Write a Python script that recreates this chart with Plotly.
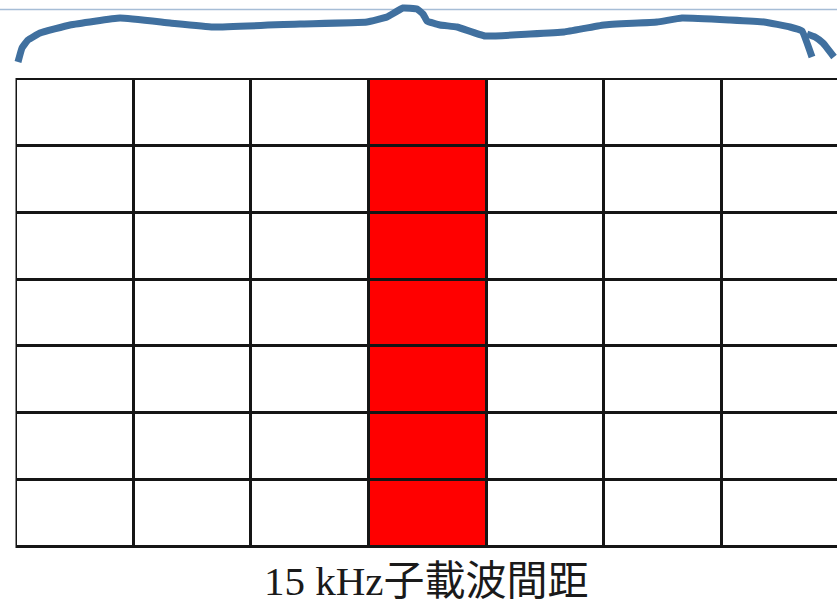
import plotly.graph_objects as go

# grid content
n_cols = 7
n_rows = 7
highlight_col = 3
label = "15 kHz子載波間距"

# hand-drawn brace above the grid (pixel coords of the sketch)
brace_x = [18, 22, 28, 40, 70, 120, 170, 213, 300, 367, 387, 403, 417, 423, 427,
           440, 457, 485, 530, 564, 604, 657, 682, 730, 764, 790, 802, 812,
           None, 807, 815, 823, 834]
brace_y = [62, 48, 40, 33, 25, 18, 23, 27, 24, 22, 17, 8, 9, 14, 21,
           25, 27, 36, 34, 32, 25, 22, 18, 20, 22, 27, 31, 57,
           None, 34, 37, 43, 57]

W, H = 837, 607
grid_left, grid_top = 16, 79
cell_w = (722 - 16) / 6
cell_h = (547 - 79) / 7

z = [[1 if c == highlight_col else 0 for c in range(n_cols)] for _ in range(n_rows)]

fig = go.Figure()
fig.add_trace(go.Heatmap(
    z=z,
    x0=grid_left + cell_w / 2, dx=cell_w,
    y0=grid_top + cell_h / 2, dy=cell_h,
    colorscale=[[0, "#ffffff"], [1, "#ff0000"]],
    zmin=0, zmax=1, showscale=False,
    xgap=3, ygap=3, hoverinfo="skip",
))
fig.add_trace(go.Scatter(
    x=brace_x, y=brace_y, mode="lines",
    line=dict(color="#40709f", width=7, shape="spline", smoothing=0.3),
    hoverinfo="skip", showlegend=False,
))

# dark backing so the heatmap gaps read as grid lines
fig.add_shape(type="rect", layer="below",
              x0=grid_left - 0.5, x1=grid_left + n_cols * cell_w + 1,
              y0=grid_top - 1, y1=grid_top + n_rows * cell_h + 1,
              fillcolor="#151515", line_width=0)
fig.add_shape(type="line", layer="below", x0=0, x1=W, y0=9.5, y1=9.5,
              line=dict(color="#a6bdd6", width=1.5))

fig.add_annotation(x=426, y=581, xref="x", yref="y", text=label, showarrow=False,
                   font=dict(family="Liberation Serif, Noto Sans CJK TC", size=41,
                             color="#1a1a1a"))

fig.update_xaxes(range=[0, W], visible=False, fixedrange=True)
fig.update_yaxes(range=[H, 0], visible=False, fixedrange=True)
fig.update_layout(
    width=W, height=H,
    margin=dict(l=0, r=0, t=0, b=0),
    paper_bgcolor="white", plot_bgcolor="white",
    showlegend=False,
)
# drop the default page margin so the figure sits at the window's corner
fig.write_html("out.html",
               config={"displayModeBar": False},
               post_script="document.body.style.margin='0';"
                           "document.body.style.overflow='hidden';")
